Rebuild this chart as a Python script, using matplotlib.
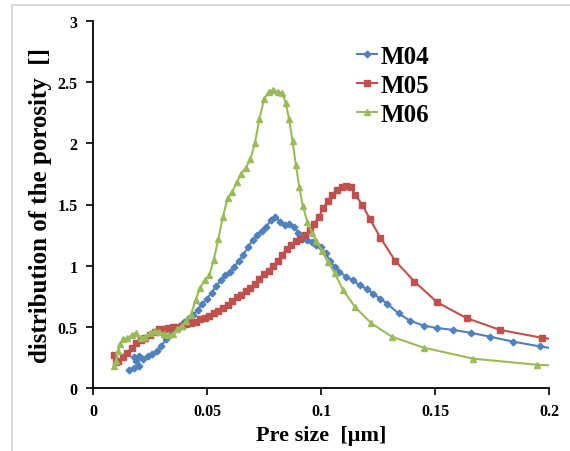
import matplotlib
matplotlib.use('Agg')
import matplotlib.pyplot as plt
from matplotlib.patches import Rectangle

plt.rcParams['font.family'] = ['Liberation Serif', 'DejaVu Serif']
plt.rcParams['font.weight'] = 'bold'

# M04 (blue, diamonds)
m04_x = [0.016, 0.018, 0.020, 0.019, 0.018, 0.020, 0.022, 0.024, 0.026, 0.028,
         0.030, 0.032, 0.034, 0.036, 0.038, 0.040, 0.042, 0.044, 0.046, 0.048,
         0.050, 0.052, 0.054, 0.056, 0.058, 0.060, 0.062, 0.064, 0.066, 0.068,
         0.070, 0.072, 0.074, 0.076, 0.078, 0.080, 0.082, 0.084, 0.086, 0.088,
         0.090, 0.092, 0.094, 0.096, 0.098, 0.100, 0.102, 0.104, 0.106, 0.108,
         0.111, 0.114, 0.117, 0.120, 0.123, 0.126, 0.129, 0.134, 0.139, 0.145,
         0.151, 0.158, 0.166, 0.174, 0.184, 0.196, 0.210]
m04_y = [0.15, 0.16, 0.18, 0.22, 0.25, 0.26, 0.24, 0.26, 0.28, 0.30,
         0.34, 0.40, 0.44, 0.48, 0.51, 0.54, 0.57, 0.60, 0.64, 0.69,
         0.73, 0.78, 0.83, 0.88, 0.92, 0.95, 0.99, 1.04, 1.09, 1.15,
         1.21, 1.25, 1.28, 1.32, 1.37, 1.40, 1.36, 1.33, 1.34, 1.32,
         1.27, 1.23, 1.21, 1.19, 1.17, 1.15, 1.10, 1.04, 0.99, 0.95,
         0.91, 0.88, 0.84, 0.81, 0.77, 0.73, 0.69, 0.61, 0.55, 0.51,
         0.49, 0.475, 0.45, 0.42, 0.38, 0.34, 0.30]

# M05 (red, squares)
m05_x = [0.009, 0.010, 0.011, 0.013, 0.015, 0.017, 0.019, 0.021, 0.023, 0.025,
         0.027, 0.029, 0.031, 0.033, 0.035, 0.037, 0.039, 0.041, 0.043, 0.045,
         0.047, 0.049, 0.051, 0.053, 0.055, 0.057, 0.059, 0.061, 0.063, 0.065,
         0.067, 0.069, 0.071, 0.073, 0.075, 0.077, 0.079, 0.081, 0.083, 0.085,
         0.087, 0.089, 0.091, 0.093, 0.095, 0.097, 0.099, 0.101, 0.103, 0.105,
         0.107, 0.109, 0.111, 0.113, 0.115, 0.118, 0.1215, 0.126, 0.1325, 0.141,
         0.151, 0.164, 0.1785, 0.197, 0.215]
m05_y = [0.27, 0.21, 0.22, 0.25, 0.29, 0.33, 0.37, 0.39, 0.41, 0.43,
         0.46, 0.48, 0.48, 0.49, 0.50, 0.50, 0.51, 0.52, 0.53, 0.54,
         0.56, 0.57, 0.59, 0.61, 0.63, 0.65, 0.68, 0.71, 0.74, 0.76,
         0.79, 0.82, 0.85, 0.89, 0.93, 0.96, 1.00, 1.04, 1.09, 1.14,
         1.17, 1.20, 1.22, 1.25, 1.29, 1.34, 1.40, 1.47, 1.53, 1.58,
         1.62, 1.64, 1.65, 1.64, 1.58, 1.50, 1.38, 1.23, 1.04, 0.87,
         0.70, 0.57, 0.475, 0.41, 0.37]

# M06 (green, triangles)
m06_x = [0.009, 0.010, 0.011, 0.012, 0.013, 0.015, 0.017, 0.019, 0.021, 0.023,
         0.025, 0.027, 0.029, 0.031, 0.033, 0.035, 0.037, 0.039, 0.041, 0.043,
         0.045, 0.047, 0.049, 0.051, 0.053, 0.055, 0.057, 0.059, 0.061, 0.063,
         0.065, 0.067, 0.069, 0.071, 0.073, 0.075, 0.077, 0.079, 0.081, 0.083,
         0.0845, 0.086, 0.0875, 0.089, 0.0905, 0.092, 0.094, 0.096, 0.098, 0.1005,
         0.103, 0.106, 0.1097, 0.115, 0.122, 0.131, 0.145, 0.1667, 0.1947, 0.220]
m06_y = [0.18, 0.22, 0.30, 0.36, 0.40, 0.41, 0.43, 0.45, 0.41, 0.42,
         0.45, 0.47, 0.46, 0.44, 0.43, 0.44, 0.48, 0.51, 0.55, 0.60,
         0.72, 0.82, 0.88, 0.92, 1.05, 1.22, 1.40, 1.55, 1.60, 1.68,
         1.75, 1.80, 1.87, 2.00, 2.20, 2.36, 2.42, 2.44, 2.42, 2.41,
         2.33, 2.20, 2.02, 1.82, 1.64, 1.49, 1.36, 1.27, 1.20, 1.12,
         1.03, 0.94, 0.80, 0.66, 0.53, 0.42, 0.33, 0.24, 0.19, 0.17]

x_ticks = [0, 0.05, 0.1, 0.15, 0.2]
x_labels = ['0', '0.05', '0.1', '0.15', '0.2']
y_ticks = [0, 0.5, 1, 1.5, 2, 2.5, 3]
y_labels = ['0', '0.5', '1', '1.5', '2', '2.5', '3']

fig = plt.figure(figsize=(5.7, 4.52), dpi=100)
ax = fig.add_axes([93 / 570, 63 / 452, 456 / 570, 367 / 452])

# light grey chart-area frame
fig.patches.append(Rectangle((12 / 570, -0.1), 1.2, (452 - 6) / 452 + 0.1,
                             transform=fig.transFigure, fill=False,
                             edgecolor='#d9d9d9', lw=1.5))

ax.plot(m04_x, m04_y, color='#4f81bd', marker='D', markersize=3.4, lw=1.5, label='M04')
ax.plot(m05_x, m05_y, color='#c0504d', marker='s', markersize=4.8, lw=1.5, label='M05')
ax.plot(m06_x, m06_y, color='#9bbb59', marker='^', markersize=4.8, lw=1.5, label='M06')

ax.set_xlim(0, 0.2)
ax.set_ylim(0, 3)
ax.set_xticks(x_ticks)
ax.set_xticklabels(x_labels)
ax.set_yticks(y_ticks)
ax.set_yticklabels(y_labels)
ax.tick_params(direction='out', length=5, width=1.2, labelsize=11.5, pad=6)
for s in ['top', 'right']:
    ax.spines[s].set_visible(False)
for s in ['left', 'bottom']:
    ax.spines[s].set_linewidth(1.3)

ax.set_xlabel('Pre size  [\u03bcm]', fontsize=16, fontweight='bold', labelpad=4)
ax.set_ylabel('distribution of the porosity  []', fontsize=18, fontweight='bold', labelpad=4)

ax.legend(loc='upper left', bbox_to_anchor=(0.53, 0.997), frameon=False,
          prop={'family': 'Liberation Serif', 'weight': 'bold', 'size': 18},
          handlelength=0.8, handletextpad=0.15, labelspacing=0.25, numpoints=1)

fig.savefig('out.png', dpi=100)
